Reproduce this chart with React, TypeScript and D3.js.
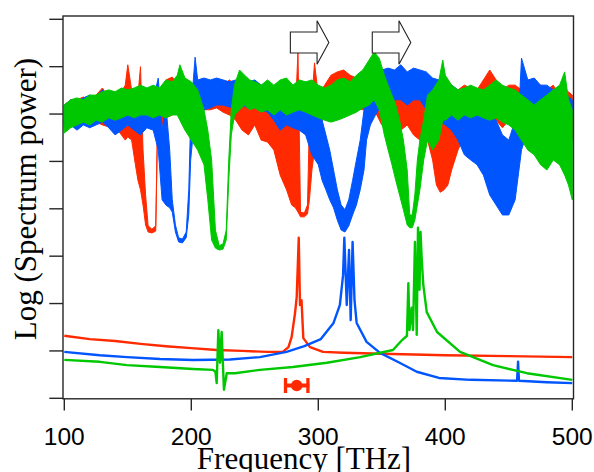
import React from "react";
import * as d3 from "d3";

// Frequency axis [THz] and unlabelled log-power axis (arbitrary decades)
const xTicks = [100, 200, 300, 400, 500];
const yTicks = [0, 1, 2, 3, 4, 5, 6, 7, 8];

// Transmission-like spectra (upper traces): [frequency, low envelope, high envelope]
const redUpper: [number, number, number][] = [
  [100, 5.77, 6.19], [105, 5.83, 6.3], [110, 5.81, 6.3], [115, 5.87, 6.36], [120, 5.77, 6.3],
  [125, 5.83, 6.4], [130, 5.77, 6.55], [135, 5.73, 6.34], [140, 5.73, 6.4], [145, 5.56, 6.47],
  [148, 5.45, 6.61], [150, 5.52, 7.04], [153, 5.45, 6.51], [156, 4.93, 6.3], [158, 4.6, 6.4],
  [160, 4.4, 7.0], [162, 4.08, 5.24], [164, 3.66, 4.29], [166, 3.51, 3.64], [169, 3.49, 3.57],
  [172, 3.53, 3.64], [173.5, 5.77, 5.98], [175, 5.66, 6.4], [180, 5.92, 6.72], [185, 5.98, 6.78],
  [190, 6.04, 6.61], [195, 6.09, 6.68], [200, 6.15, 6.61], [205, 6.13, 6.55], [210, 6.09, 6.61],
  [215, 6.09, 6.61], [220, 6.13, 6.72], [225, 6.04, 6.61], [230, 5.98, 6.72], [235, 5.87, 6.61],
  [240, 5.66, 6.61], [245, 5.56, 6.55], [250, 5.77, 6.61], [255, 5.45, 6.51], [260, 5.41, 6.47],
  [265, 5.24, 6.4], [270, 4.71, 6.4], [275, 4.4, 6.34], [279, 4.08, 6.19], [282, 4.02, 6.09],
  [284, 3.93, 7.31], [286, 3.83, 3.93], [289, 3.83, 3.91], [291.5, 3.89, 4.08], [293, 4.19, 5.87],
  [295, 4.82, 6.3], [297, 5.24, 7.08], [300, 5.66, 6.4], [305, 5.98, 6.61], [310, 6.09, 6.82],
  [315, 6.19, 6.89], [320, 6.09, 6.93], [325, 6.19, 6.82], [330, 6.13, 6.76], [335, 6.09, 6.76],
  [340, 6.13, 6.72], [345, 6.04, 6.61], [350, 5.77, 6.61], [355, 5.77, 6.55], [360, 5.56, 6.51],
  [365, 5.66, 6.4], [370, 5.77, 6.47], [375, 5.56, 6.4], [380, 5.45, 6.4], [385, 5.56, 6.3],
  [390, 5.03, 6.4], [393, 4.5, 6.09], [396, 4.35, 5.87], [399, 4.4, 5.98], [402, 4.5, 6.09],
  [405, 4.82, 6.19], [410, 5.24, 6.51], [415, 5.56, 6.61], [420, 5.66, 6.55], [425, 5.71, 6.51],
  [430, 5.87, 6.72], [435, 5.98, 6.93], [440, 5.87, 6.72], [445, 5.71, 6.51], [450, 5.87, 6.61],
  [455, 5.98, 6.61], [460, 5.98, 6.51], [465, 5.92, 6.51], [470, 5.87, 6.55], [475, 5.77, 6.61],
  [480, 5.66, 6.51], [485, 5.24, 6.61], [490, 4.93, 6.4], [495, 5.24, 6.51], [500, 5.45, 6.4],
];

const blueUpper: [number, number, number][] = [
  [100, 5.71, 6.19], [105, 5.77, 6.3], [110, 5.66, 6.25], [115, 5.77, 6.34], [120, 5.71, 6.4],
  [125, 5.77, 6.36], [130, 5.83, 6.51], [135, 5.71, 6.4], [140, 5.56, 6.34], [145, 5.66, 6.47],
  [150, 5.77, 6.4], [155, 5.66, 6.51], [160, 5.56, 6.51], [165, 5.71, 6.55], [170, 5.66, 6.3],
  [174, 5.24, 6.76], [177, 4.19, 5.66], [180, 4.08, 6.19], [183, 4.02, 5.24], [185, 3.93, 4.19],
  [187.5, 3.51, 3.66], [190, 3.3, 3.39], [193, 3.28, 3.36], [196, 3.39, 3.51], [198, 3.87, 4.4],
  [199.5, 5.03, 5.87], [201, 5.45, 6.51], [203, 5.87, 7.2], [205, 5.98, 6.72], [210, 6.09, 6.76],
  [215, 6.13, 6.72], [220, 6.19, 6.76], [225, 6.19, 6.72], [230, 6.15, 6.68], [235, 6.13, 6.72],
  [240, 6.19, 6.61], [245, 6.13, 6.68], [250, 6.13, 6.72], [255, 6.09, 6.61], [260, 6.04, 6.61],
  [265, 5.87, 6.55], [270, 5.66, 6.55], [275, 5.77, 6.51], [280, 5.71, 6.61], [285, 5.66, 6.51],
  [290, 5.56, 6.47], [295, 5.14, 6.4], [300, 4.93, 6.19], [303, 4.6, 5.87], [306, 4.4, 5.56],
  [309, 4.19, 5.24], [312, 4.02, 4.82], [315, 3.76, 4.4], [318, 3.55, 4.08], [321, 3.51, 3.98],
  [324, 3.64, 4.19], [327, 3.87, 4.6], [330, 4.08, 5.03], [333, 4.4, 5.45], [336, 4.82, 6.09],
  [338, 5.45, 7.04], [341, 5.77, 6.72], [345, 5.98, 6.82], [350, 6.19, 6.93], [355, 6.3, 6.97],
  [360, 6.3, 6.93], [365, 6.3, 7.04], [370, 6.19, 6.89], [375, 6.3, 6.97], [380, 6.3, 6.93],
  [385, 6.09, 6.89], [390, 5.98, 6.76], [395, 5.87, 6.72], [400, 5.77, 6.61], [405, 5.66, 6.61],
  [410, 5.45, 6.51], [415, 5.14, 6.3], [420, 5.03, 6.19], [425, 4.93, 6.3], [430, 4.71, 6.19],
  [435, 4.29, 5.98], [440, 4.08, 5.87], [445, 3.87, 5.56], [450, 3.87, 5.45], [455, 4.19, 5.87],
  [458, 4.82, 6.09], [460, 5.24, 7.18], [465, 5.66, 6.72], [470, 5.77, 6.76], [475, 5.56, 6.61],
  [480, 5.77, 6.61], [485, 5.66, 6.51], [490, 5.71, 6.51], [495, 5.77, 6.4], [500, 5.98, 6.3],
];

const greenUpper: [number, number, number][] = [
  [100, 5.6, 6.19], [105, 5.71, 6.3], [110, 5.77, 6.34], [115, 5.83, 6.3], [120, 5.77, 6.4],
  [125, 5.87, 6.4], [130, 5.83, 6.47], [135, 5.92, 6.51], [140, 5.87, 6.47], [145, 5.92, 6.55],
  [150, 5.98, 6.51], [155, 5.92, 6.55], [160, 5.98, 6.61], [165, 5.98, 6.55], [170, 5.92, 6.61],
  [175, 5.98, 6.55], [180, 5.92, 6.72], [185, 5.98, 6.68], [189, 5.98, 6.82], [191, 5.87, 7.04],
  [195, 5.66, 6.76], [200, 5.45, 6.68], [205, 5.24, 6.51], [210, 4.93, 6.09], [213, 4.19, 5.66],
  [216, 3.34, 5.03], [219, 3.17, 3.55], [222, 3.13, 3.22], [225, 3.15, 3.26], [227.5, 3.34, 3.55],
  [229.5, 4.6, 5.03], [231.5, 5.56, 6.09], [234, 5.98, 6.61], [238, 6.09, 6.93], [242, 6.19, 6.82],
  [246, 6.09, 6.72], [250, 6.13, 6.68], [255, 6.04, 6.61], [260, 6.09, 6.72], [265, 5.98, 6.61],
  [270, 6.09, 6.72], [275, 5.98, 6.76], [280, 6.04, 6.61], [285, 6.09, 6.72], [290, 6.04, 6.68],
  [295, 5.98, 6.72], [300, 5.92, 6.61], [305, 5.87, 6.55], [310, 5.83, 6.61], [315, 5.87, 6.72],
  [320, 5.92, 6.76], [325, 5.98, 6.68], [330, 6.04, 6.82], [335, 6.13, 6.93], [340, 6.19, 7.14],
  [344, 6.3, 7.31], [348, 6.09, 7.18], [352, 5.56, 6.82], [355, 5.24, 6.61], [358, 4.93, 6.4],
  [361, 4.6, 6.19], [364, 4.29, 5.87], [367, 3.98, 5.45], [370, 3.66, 4.82], [372, 3.6, 3.87],
  [374, 3.6, 3.87], [376, 3.76, 4.29], [378, 4.08, 5.03], [380, 4.4, 5.45], [383, 5.03, 5.87],
  [386, 5.45, 6.4], [390, 5.24, 6.51], [395, 5.45, 6.72], [398, 5.87, 7.14], [400, 5.87, 6.82],
  [405, 5.98, 6.61], [410, 5.87, 6.51], [415, 5.98, 6.55], [420, 5.92, 6.61], [425, 5.98, 6.55],
  [430, 5.92, 6.51], [435, 5.87, 6.61], [440, 5.92, 6.72], [445, 5.83, 6.61], [450, 5.77, 6.55],
  [455, 5.66, 6.51], [460, 5.45, 6.4], [465, 5.24, 6.3], [470, 5.14, 6.19], [475, 4.93, 6.3],
  [480, 4.82, 6.4], [485, 5.03, 6.51], [490, 4.93, 6.61], [494, 4.71, 6.89], [497, 4.5, 6.3],
  [500, 4.19, 6.09],
];

// Emission-like spectra (lower traces): [frequency, log power]
const redLower: [number, number][] = [
  [100, 1.32], [120, 1.25], [140, 1.21], [160, 1.15], [180, 1.1], [200, 1.06], [220, 1.02],
  [240, 1.0], [260, 0.98], [272, 0.98], [276.5, 1.08], [279, 1.29], [281.7, 1.8], [283, 2.14],
  [284.6, 3.39], [285.6, 1.97], [286.8, 2.07], [288.2, 1.27], [293.5, 1.08], [303.7, 0.98],
  [320, 0.96], [350, 0.94], [400, 0.91], [450, 0.89], [500, 0.87],
];

const blueLower: [number, number][] = [
  [100, 0.98], [128, 0.91], [149.4, 0.87], [175.4, 0.83], [201.3, 0.81], [230.5, 0.82],
  [254, 0.87], [275, 0.98], [289, 1.1], [302, 1.25], [312, 1.59], [317, 1.97], [319.5, 2.6],
  [320.5, 3.39], [322.4, 1.97], [324.2, 3.13], [325.5, 1.65], [327, 3.3], [328.5, 2.07],
  [330.2, 1.59], [338, 1.19], [348.6, 0.96], [364, 0.75], [377.5, 0.56], [395, 0.43],
  [420, 0.39], [456.5, 0.37], [457.3, 0.77], [458, 0.37], [480, 0.34], [500, 0.32],
];

const greenLower: [number, number][] = [
  [100, 0.81], [128, 0.77], [149.4, 0.7], [175.4, 0.66], [201.3, 0.62], [217, 0.6], [219, 0.56],
  [220, 0.32], [221.3, 1.44], [222.6, 0.75], [223.9, 1.4], [225.7, 0.18], [227.9, 0.53],
  [234.4, 0.53], [254, 0.6], [280, 0.66], [306.8, 0.75], [333, 0.87], [358.8, 1.02],
  [366, 1.23], [369.8, 1.32], [370.9, 2.43], [371.8, 1.44], [373.5, 1.91], [374.6, 1.44],
  [376.1, 3.3], [377.5, 1.34], [378.5, 3.6], [379.7, 2.29], [380.5, 3.51], [381.4, 2.96],
  [382.7, 2.39], [385.4, 1.82], [393.5, 1.4], [411.6, 0.98], [437.6, 0.7], [464.3, 0.53],
  [500, 0.39],
];

// Measured frequency with uncertainty [THz] and its level
const markerFreq = [283];
const markerErr = [10];
const markerLevel = [0.27];

// Annotation arrows: start frequency [THz], level of arrow axis
const arrowStarts = [278, 342.5];
const arrowLevel = 7.51;

const RED = "#ff2a00";
const BLUE = "#0055ff";
const GREEN = "#00c800";
const AXIS = "#262626";

export default function App() {
  const W = 594;
  const H = 472;
  const x = d3.scaleLinear().domain([100, 500]).range([64.3, 572.3]);
  const y = d3.scaleLinear().domain([0, 8]).range([398.3, 19.3]);

  const area = d3
    .area<[number, number, number]>()
    .x((d) => x(d[0]))
    .y0((d) => y(d[1]))
    .y1((d) => y(d[2]));
  const line = d3
    .line<[number, number]>()
    .x((d) => x(d[0]))
    .y((d) => y(d[1]));

  const upper: [[number, number, number][], string][] = [
    [redUpper, RED],
    [blueUpper, BLUE],
    [greenUpper, GREEN],
  ];
  const lower: [[number, number][], string][] = [
    [redLower, RED],
    [blueLower, BLUE],
    [greenLower, GREEN],
  ];

  const frameL = 63;
  const frameR = 573.5;
  const frameT = 16;
  const frameB = 398.8;

  const arrowPath = (f: number) => {
    const x0 = x(f);
    const yc = y(arrowLevel);
    const body = 26.7;
    const head = 11.8;
    const bh = 10.5;
    const hh = 21.7;
    return `M${x0},${yc - bh}L${x0 + body},${yc - bh}L${x0 + body},${yc - hh}L${x0 + body + head},${yc}L${x0 + body},${yc + hh}L${x0 + body},${yc + bh}L${x0},${yc + bh}Z`;
  };

  return (
    <svg
      width={W}
      height={H}
      style={{ position: "absolute", left: 0, top: 0, background: "#fff" }}
    >
      <rect x={0} y={0} width={W} height={H} fill="#fff" />
      <defs>
        <clipPath id="plotclip">
          <rect x={frameL} y={frameT} width={frameR - frameL} height={frameB - frameT} />
        </clipPath>
      </defs>

      <g clipPath="url(#plotclip)">
        {upper.map(([data, c], i) => (
          <path
            key={"u" + i}
            d={area(data) || ""}
            fill={c}
            stroke={c}
            strokeWidth={1}
            strokeLinejoin="round"
          />
        ))}
        {lower.map(([data, c], i) => (
          <path
            key={"l" + i}
            d={line(data) || ""}
            fill="none"
            stroke={c}
            strokeWidth={2.4}
            strokeLinejoin="round"
          />
        ))}
      </g>

      {/* measured frequency marker with error bar */}
      {markerFreq.map((f, i) => {
        const cy = y(markerLevel[i]);
        const x1 = x(f - markerErr[i]);
        const x2 = x(f + markerErr[i]);
        return (
          <g key={"m" + i} fill={RED} stroke={RED}>
            <line x1={x1} x2={x2} y1={cy} y2={cy} strokeWidth={4} />
            <line x1={x1 + 1.5} x2={x1 + 1.5} y1={cy - 7.5} y2={cy + 7.5} strokeWidth={3.3} />
            <line x1={x2 - 1.5} x2={x2 - 1.5} y1={cy - 7.5} y2={cy + 7.5} strokeWidth={3.3} />
            <circle cx={x(f)} cy={cy} r={5.8} stroke="none" />
          </g>
        );
      })}

      {/* arrows */}
      {arrowStarts.map((f, i) => (
        <path
          key={"a" + i}
          d={arrowPath(f)}
          fill="#fff"
          stroke="#222"
          strokeWidth={1.1}
          strokeLinejoin="miter"
        />
      ))}

      {/* frame */}
      <rect
        x={frameL}
        y={frameT}
        width={frameR - frameL}
        height={frameB - frameT}
        fill="none"
        stroke={AXIS}
        strokeWidth={1.4}
      />

      {/* y ticks */}
      {yTicks.map((t) => (
        <line
          key={"yt" + t}
          x1={49.3}
          x2={frameL}
          y1={y(t)}
          y2={y(t)}
          stroke={AXIS}
          strokeWidth={1.4}
        />
      ))}

      {/* x ticks + labels */}
      {xTicks.map((t) => (
        <g key={"xt" + t}>
          <line
            x1={x(t)}
            x2={x(t)}
            y1={frameB}
            y2={410.5}
            stroke={AXIS}
            strokeWidth={1.4}
          />
          <text
            x={x(t)}
            y={445}
            textAnchor="middle"
            fontFamily="'Liberation Sans', Arial, sans-serif"
            fontSize={24.5}
            fill="#000"
          >
            {t}
          </text>
        </g>
      ))}

      <text
        x={304}
        y={468.5}
        textAnchor="middle"
        fontFamily="'Liberation Serif', 'Times New Roman', serif"
        fontSize={31}
        fill="#000"
      >
        Frequency [THz]
      </text>
      <text
        transform="translate(36,199) rotate(-90)"
        textAnchor="middle"
        fontFamily="'Liberation Serif', 'Times New Roman', serif"
        fontSize={31}
        fill="#000"
      >
        Log (Spectrum power)
      </text>
    </svg>
  );
}
